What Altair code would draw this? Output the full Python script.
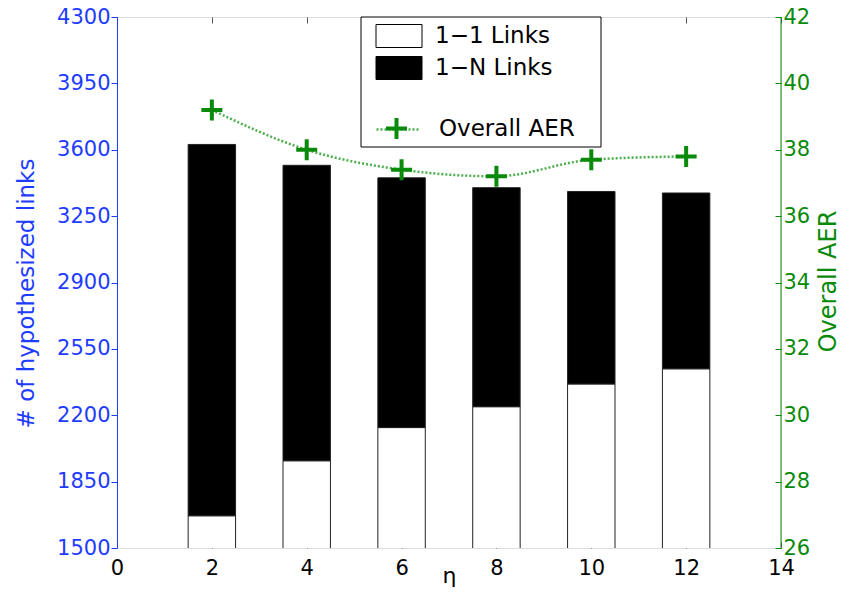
import altair as alt
import pandas as pd

# ---- data ----
eta = [2, 4, 6, 8, 10, 12]
links_1_1 = [1670, 1960, 2135, 2245, 2365, 2445]
links_1_n = [1958, 1558, 1317, 1155, 1015, 927]
aer = [39.2, 38.0, 37.4, 37.2, 37.7, 37.8]
bar_series = ["1−1 Links", "1−N Links"]
line_series = ["Overall AER"]
x_ticks = [0, 2, 4, 6, 8, 10, 12, 14]
left_ticks = [1500, 1850, 2200, 2550, 2900, 3250, 3600, 3950, 4300]
right_ticks = [26, 28, 30, 32, 34, 36, 38, 40, 42]

W, H = 664, 531
BLUE = "#1e3cff"
GREEN = "#0a8a0a"
LINE_GREEN = "#4cae4c"
FONT = "DejaVu Sans"
PLUS = "M-1,0H1M0,-1V1"
RECT = "M-2,-1H2V1H-2Z"

rows = []
for e, a, b in zip(eta, links_1_1, links_1_n):
    rows.append({"eta": e, "series": bar_series[0], "y0": 0, "y1": a})
    rows.append({"eta": e, "series": bar_series[1], "y0": a, "y1": a + b})
bars_df = pd.DataFrame(rows)
aer_df = pd.DataFrame({"eta": eta, "aer": aer,
                       "series": line_series * len(eta),
                       "line_key": line_series * len(eta)})

xscale = alt.Scale(domain=[0, 14], nice=False, zero=False)

x_bottom = alt.Axis(orient="bottom", values=x_ticks, offset=-6, tickSize=6, domain=False,
                    grid=False, tickColor="#555555", labelColor="black", labelFontSize=21,
                    labelFont=FONT, labelPadding=9, labelFlush=False, labelOverlap=False,
                    format="d", title="η", titleFont=FONT, titleFontSize=22,
                    titleFontWeight="normal", titleColor="black", titleX=W / 2, titleY=40,
                    titleAlign="center", titleBaseline="alphabetic")
x_top = alt.Axis(orient="top", values=x_ticks, offset=-6, tickSize=6, domain=False,
                 labels=False, grid=False, tickColor="#555555", title=None)

y_left = alt.Axis(orient="left", values=left_ticks, tickSize=6, domainColor=BLUE, tickColor=BLUE,
                  labelColor=BLUE, labelFontSize=21, labelFont=FONT, labelPadding=1,
                  labelFlush=False, labelOverlap=False, grid=False, format="d",
                  title="# of hypothesized links", titleColor=BLUE, titleFont=FONT,
                  titleFontSize=23, titleFontWeight="normal", titleAngle=270, titleX=-79,
                  titleY=276, titleAlign="center", titleBaseline="bottom")
y_right = alt.Axis(orient="right", values=right_ticks, offset=-6, tickSize=6, domain=False,
                   tickColor=GREEN, labelColor=GREEN, labelFontSize=21, labelFont=FONT,
                   labelPadding=2, labelFlush=False, labelOverlap=False, grid=False,
                   title="Overall AER", titleColor=GREEN, titleFont=FONT, titleFontSize=24,
                   titleFontWeight="normal", titleAngle=270, titleX=41, titleY=264,
                   titleAlign="center", titleBaseline="top")

bars = alt.Chart(bars_df).mark_bar(stroke="#222222", strokeWidth=1, clip=True).transform_calculate(
    x0="datum.eta - 0.5", x1="datum.eta + 0.5"
).encode(
    x=alt.X("x0:Q", scale=xscale, axis=x_bottom),
    x2="x1:Q",
    y=alt.Y("y0:Q", scale=alt.Scale(domain=[1500, 4300], nice=False, zero=False), axis=y_left),
    y2="y1:Q",
    fill=alt.Fill("series:N", scale=alt.Scale(domain=bar_series, range=["white", "black"]),
                  legend=alt.Legend(orient="none", legendX=270, legendY=7, title=None, padding=0,
                                    direction="vertical", symbolType=RECT, symbolSize=529,
                                    symbolStrokeColor="black", symbolStrokeWidth=1,
                                    labelFontSize=23, labelFont=FONT, labelColor="black",
                                    labelOffset=24, rowPadding=4)),
)

box = alt.Chart(pd.DataFrame({"k": [0]})).mark_rect(fill="white", stroke="black", strokeWidth=1).encode(
    x=alt.value(244), x2=alt.value(484), y=alt.value(0), y2=alt.value(130)
)

right_scale = alt.Scale(domain=[26, 42], nice=False, zero=False)

line = alt.Chart(aer_df).mark_line(interpolate="monotone", strokeWidth=2.5,
                                   color=LINE_GREEN).encode(
    x=alt.X("eta:Q", scale=xscale, axis=x_top),
    y=alt.Y("aer:Q", scale=right_scale, axis=y_right),
    strokeDash=alt.StrokeDash("line_key:N", scale=alt.Scale(range=[[2, 2]]),
                              legend=alt.Legend(orient="none", legendX=258, legendY=90, title=None,
                                                padding=0, symbolType="stroke", symbolSize=1764,
                                                symbolStrokeColor=LINE_GREEN, symbolStrokeWidth=2.5,
                                                symbolDash=[2, 2], labelExpr="''",
                                                labelFontSize=1)),
)
points = alt.Chart(aer_df).mark_point(shape=PLUS, filled=False, size=441, strokeWidth=4, opacity=1).encode(
    x=alt.X("eta:Q", scale=xscale, axis=x_top),
    y=alt.Y("aer:Q", scale=right_scale, axis=y_right),
    stroke=alt.Stroke("series:N", scale=alt.Scale(domain=line_series, range=[GREEN]),
                      legend=alt.Legend(orient="none", legendX=267, legendY=99, title=None, padding=0,
                                        symbolType=PLUS, symbolSize=441, symbolStrokeWidth=4,
                                        symbolFillColor="transparent",
                                        labelFontSize=23, labelFont=FONT, labelColor="black",
                                        labelOffset=30)),
)
green_edge = alt.Chart(pd.DataFrame({"k": [0]})).mark_rule(color=GREEN, strokeWidth=1).encode(
    x=alt.value(W), y=alt.value(0), y2=alt.value(H)
)

left_layer = alt.layer(bars, box)
right_layer = alt.layer(line, points, green_edge)

chart = alt.layer(left_layer, right_layer).resolve_scale(
    y="independent"
).resolve_axis(x="independent", y="independent").properties(
    width=W, height=H,
    autosize=alt.AutoSizeParams(type="none"),
    padding={"left": 109, "top": 9, "right": 60, "bottom": 44},
).configure_view(stroke="black", strokeWidth=1).configure(font=FONT, background="white")

chart.save("out.html", embed_options={"renderer": "svg", "actions": False})
